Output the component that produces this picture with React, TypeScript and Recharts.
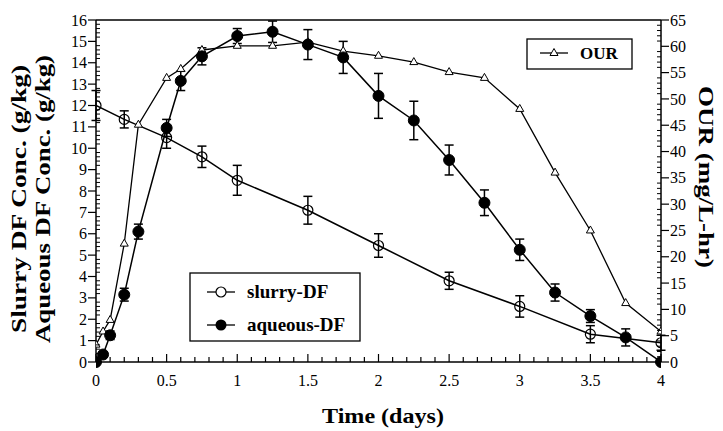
import { LineChart, Line, XAxis, YAxis, ErrorBar, ReferenceLine } from 'recharts'

// slurry-DF (open circles), left axis
const slurryTime = [0, 0.2, 0.5, 0.75, 1, 1.5, 2, 2.5, 3, 3.5, 4]
const slurryConc = [12.0, 11.35, 10.5, 9.6, 8.5, 7.1, 5.45, 3.8, 2.6, 1.3, 0.9]
const slurryErr = [0.7, 0.4, 0.5, 0.5, 0.7, 0.65, 0.55, 0.4, 0.5, 0.4, 0.35]

// aqueous-DF (filled circles), left axis
const aqueousTime = [0, 0.05, 0.1, 0.2, 0.3, 0.5, 0.6, 0.75, 1, 1.25, 1.5, 1.75, 2, 2.25, 2.5, 2.75, 3, 3.25, 3.5, 3.75, 4]
const aqueousConc = [0, 0.35, 1.25, 3.15, 6.1, 10.95, 13.15, 14.3, 15.25, 15.45, 14.85, 14.25, 12.45, 11.3, 9.45, 7.45, 5.25, 3.25, 2.15, 1.15, 0]
const aqueousErr = [0, 0.1, 0.2, 0.3, 0.35, 0.4, 0.45, 0.4, 0.35, 0.5, 0.7, 0.75, 1.05, 0.9, 0.7, 0.6, 0.5, 0.4, 0.3, 0.4, 0]

// OUR (triangles), right axis
const ourTime = [0, 0.05, 0.1, 0.2, 0.3, 0.5, 0.6, 0.75, 1, 1.25, 1.5, 1.75, 2, 2.25, 2.5, 2.75, 3, 3.25, 3.5, 3.75, 4]
const ourRate = [3.3, 5.8, 8.0, 22.5, 45.1, 54.0, 55.7, 59.3, 60.1, 60.1, 60.8, 59.1, 58.2, 57.0, 55.1, 54.0, 48.1, 36.0, 25.0, 11.2, 5.8]

// tick positions (majors get labels)
const timeTicks = Array.from({ length: 41 }, (_, i) => i / 10)
const concTicks = Array.from({ length: 81 }, (_, i) => i / 5)
const ourTicks = Array.from({ length: 66 }, (_, i) => i)

const slurryData = slurryTime.map((t, i) => ({ t, v: slurryConc[i], e: slurryErr[i] }))
const aqueousData = aqueousTime.map((t, i) => ({ t, v: aqueousConc[i], e: aqueousErr[i] }))
const ourData = ourTime.map((t, i) => ({ t, v: ourRate[i] }))

const FONT = '"Liberation Serif", "Times New Roman", serif'
const isMult = (v: number, step: number) => Math.abs(v / step - Math.round(v / step)) < 1e-6

function BottomTick({ x, y, payload }: any) {
  const v = payload.value
  const major = isMult(v, 0.5)
  return (
    <g>
      <line x1={x} x2={x} y1={y} y2={y - (major ? 8 : 5)} stroke="#000" strokeWidth={1.2} />
      {major && (
        <text x={x} y={y + 13} dy="0.71em" textAnchor="middle" fontFamily={FONT} fontSize={16} fill="#000">
          {String(Math.round(v * 10) / 10)}
        </text>
      )}
    </g>
  )
}

function LeftTick({ x, y, payload }: any) {
  const v = payload.value
  const major = isMult(v, 1)
  return (
    <g>
      {major
        ? <line x1={x - 8} x2={x} y1={y} y2={y} stroke="#000" strokeWidth={1.2} />
        : <line x1={x} x2={x + 4} y1={y} y2={y} stroke="#000" strokeWidth={1} />}
      {major && (
        <text x={x - 9} y={y} dy="0.35em" textAnchor="end" fontFamily={FONT} fontSize={16} fill="#000">
          {Math.round(v)}
        </text>
      )}
    </g>
  )
}

function RightTick({ x, y, payload }: any) {
  const v = payload.value
  const major = isMult(v, 5)
  return (
    <g>
      {major
        ? <line x1={x} x2={x + 8} y1={y} y2={y} stroke="#000" strokeWidth={1.2} />
        : <line x1={x - 4} x2={x} y1={y} y2={y} stroke="#000" strokeWidth={1} />}
      {major && (
        <text x={x + 9} y={y} dy="0.35em" textAnchor="start" fontFamily={FONT} fontSize={16} fill="#000">
          {Math.round(v)}
        </text>
      )}
    </g>
  )
}

function Triangle(props: any) {
  const { cx, cy, index } = props
  if (cx == null || cy == null) return null
  return (
    <path key={`tri-${index}`} d={`M${cx},${cy - 4.5} L${cx + 4},${cy + 2.5} L${cx - 4},${cy + 2.5} Z`}
      fill="#fff" stroke="#000" strokeWidth={1} />
  )
}

export default function App() {
  return (
    <div style={{ position: 'absolute', left: 0, top: 0, width: 723, height: 431, background: '#fff' }}>
      <LineChart width={723} height={431} margin={{ top: 20, right: 22, bottom: 39, left: 56 }}>
        <XAxis dataKey="t" type="number" domain={[0, 4]} ticks={timeTicks} interval={0} height={30}
          tickSize={0} tickMargin={0} tickLine={false} tick={<BottomTick />}
          axisLine={{ stroke: '#000', strokeWidth: 1.5 }} allowDataOverflow />
        <YAxis yAxisId="left" type="number" domain={[0, 16]} ticks={concTicks} interval={0} width={40}
          tickSize={0} tickMargin={0} tickLine={false} tick={<LeftTick />}
          axisLine={{ stroke: '#000', strokeWidth: 1.5 }} />
        <YAxis yAxisId="right" orientation="right" type="number" domain={[0, 65]} ticks={ourTicks} interval={0} width={40}
          tickSize={0} tickMargin={0} tickLine={false} tick={<RightTick />}
          axisLine={{ stroke: '#000', strokeWidth: 1.5 }} />
        <ReferenceLine yAxisId="left" y={16} stroke="#000" strokeWidth={1.5} />
        <Line yAxisId="right" data={ourData} dataKey="v" stroke="#000" strokeWidth={1.3}
          dot={<Triangle />} activeDot={false} isAnimationActive={false} />
        <Line yAxisId="left" data={slurryData} dataKey="v" stroke="#000" strokeWidth={1.5}
          dot={{ r: 5, fill: 'none', stroke: '#000', strokeWidth: 1.2 }} activeDot={false} isAnimationActive={false}>
          <ErrorBar dataKey="e" direction="y" width={4.5} stroke="#000" strokeWidth={1.5} />
        </Line>
        <Line yAxisId="left" data={aqueousData} dataKey="v" stroke="#000" strokeWidth={1.5}
          dot={{ r: 5.5, fill: '#000', stroke: '#000', strokeWidth: 1 }} activeDot={false} isAnimationActive={false}>
          <ErrorBar dataKey="e" direction="y" width={4.5} stroke="#000" strokeWidth={1.5} />
        </Line>
      </LineChart>

      {/* titles and legends */}
      <svg width={723} height={431} style={{ position: 'absolute', left: 0, top: 0, pointerEvents: 'none' }}>
        <g fontFamily={FONT} fontWeight="bold" fill="#000">
          <text x={383} y={423} fontSize={22} textAnchor="middle" textLength={122} lengthAdjust="spacingAndGlyphs">Time (days)</text>
          <text transform="translate(26,199) rotate(-90)" fontSize={22} textAnchor="middle" textLength={268} lengthAdjust="spacingAndGlyphs">Slurry DF Conc. (g/kg)</text>
          <text transform="translate(50,199) rotate(-90)" fontSize={22} textAnchor="middle" textLength={288} lengthAdjust="spacingAndGlyphs">Aqueous DF Conc. (g/kg)</text>
          <text transform="translate(699,177) rotate(90)" fontSize={22} textAnchor="middle" textLength={182} lengthAdjust="spacingAndGlyphs">OUR (mg/L-hr)</text>
        </g>

        <rect x={527} y={39} width={105} height={30} fill="#fff" stroke="#000" strokeWidth={1.3} />
        <line x1={540} x2={568} y1={53} y2={53} stroke="#000" strokeWidth={1.3} />
        <path d="M554,48.5 L558,55.5 L550,55.5 Z" fill="#fff" stroke="#000" strokeWidth={1} />
        <text x={580} y={59} fontFamily={FONT} fontWeight="bold" fontSize={17}>OUR</text>

        <rect x={190} y={273} width={170} height={68} fill="#fff" stroke="#000" strokeWidth={1.3} />
        <line x1={207} x2={235} y1={292} y2={292} stroke="#000" strokeWidth={1.3} />
        <circle cx={221} cy={292} r={5} fill="#fff" stroke="#000" strokeWidth={1.2} />
        <text x={247} y={298} fontFamily={FONT} fontWeight="bold" fontSize={19}>slurry-DF</text>
        <line x1={207} x2={235} y1={325} y2={325} stroke="#000" strokeWidth={1.3} />
        <circle cx={221} cy={325} r={5.5} fill="#000" />
        <text x={247} y={331} fontFamily={FONT} fontWeight="bold" fontSize={19}>aqueous-DF</text>
      </svg>
    </div>
  )
}
